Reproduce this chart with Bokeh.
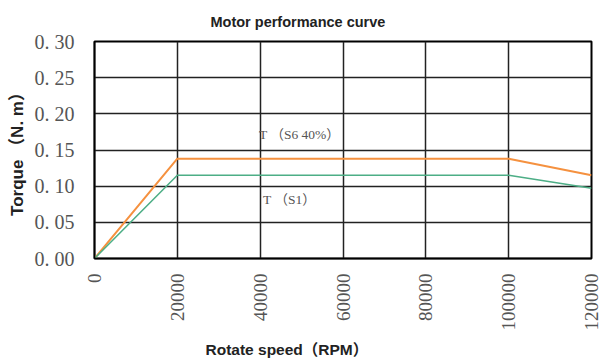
from bokeh.plotting import figure
from bokeh.models import Range1d, FixedTicker, Label, Title
from bokeh.embed import file_html
from bokeh.resources import INLINE

speed_s6 = [0, 20000, 100000, 120000]
torque_s6 = [0, 0.138, 0.138, 0.115]
speed_s1 = [0, 20000, 100000, 120000]
torque_s1 = [0, 0.115, 0.115, 0.097]
x_ticks = [0, 20000, 40000, 60000, 80000, 100000, 120000]
x_tick_labels = ["0", "20000", "40000", "60000", "80000", "100000", "120000"]
y_ticks = [0, 0.05, 0.10, 0.15, 0.20, 0.25, 0.30]
y_tick_labels = ["0. 00", "0. 05", "0. 10", "0. 15", "0. 20", "0. 25", "0. 30"]
label_s6 = "T （S6 40%）"
label_s1 = "T （S1）"

FONT_SANS = "Liberation Sans, Noto Sans CJK SC, sans-serif"
FONT_SERIF = "Liberation Serif, Noto Sans CJK SC, serif"

p = figure(width=601, height=362, output_backend="svg", toolbar_location=None,
           x_range=Range1d(0, 120000), y_range=Range1d(0, 0.30),
           min_border_left=94, min_border_right=10, min_border_top=41, min_border_bottom=103)
p.background_fill_color = "white"
p.border_fill_color = "white"
p.outline_line_color = "black"
p.outline_line_width = 2

p.title.text = "Motor performance curve"
p.title.text_font = FONT_SANS
p.title.text_font_size = "14.5px"
p.title.text_font_style = "bold"
p.title.text_color = "#222222"
p.title.align = "left"
p.title.offset = 116
p.title.standoff = 23

for ax in (p.xaxis[0], p.yaxis[0]):
    ax.axis_line_color = "black"
    ax.axis_line_width = 1.5
    ax.major_tick_line_color = None
    ax.minor_tick_line_color = None
    ax.major_label_text_font = "Liberation Serif"
    ax.major_label_text_color = "#555555"
p.yaxis.major_label_text_font_size = "20px"
p.xaxis.major_label_text_font_size = "19px"

p.xaxis.ticker = FixedTicker(ticks=x_ticks)
p.xaxis.major_label_overrides = {t: l for t, l in zip(x_ticks, x_tick_labels)}
p.xaxis.major_label_orientation = 1.5708
p.xaxis.major_label_standoff = 9
p.yaxis.ticker = FixedTicker(ticks=y_ticks)
p.yaxis.major_label_overrides = {t: l for t, l in zip(y_ticks, y_tick_labels)}
p.yaxis.major_label_standoff = 14

p.yaxis.axis_label = "Torque （N. m）"
p.yaxis.axis_label_text_font = FONT_SANS
p.yaxis.axis_label_text_font_style = "bold"
p.yaxis.axis_label_text_font_size = "17px"
p.yaxis.axis_label_text_color = "#222222"
p.yaxis.axis_label_standoff = 5

for g in (p.xgrid[0], p.ygrid[0]):
    g.grid_line_color = "#222222"
    g.grid_line_width = 1.5
    g.grid_line_alpha = 1.0

xl = Title(text="Rotate speed（RPM）", text_font=FONT_SANS, text_font_style="bold",
           text_font_size="15.5px", text_color="#222222", align="left", offset=111)
p.add_layout(xl, "below")

p.line(speed_s6, torque_s6, line_color="#F5913F", line_width=2)
p.line(speed_s1, torque_s1, line_color="#4DAE86", line_width=1.5)

p.add_layout(Label(x=49500, y=0.172, text=label_s6, text_font=FONT_SERIF,
                   text_font_size="13.5px", text_color="#555555", text_align="center",
                   text_baseline="middle"))
p.add_layout(Label(x=47080, y=0.0812, text=label_s1, text_font=FONT_SERIF,
                   text_font_size="13.5px", text_color="#555555", text_align="center",
                   text_baseline="middle"))

open("out.html", "w").write(file_html(p, INLINE))
